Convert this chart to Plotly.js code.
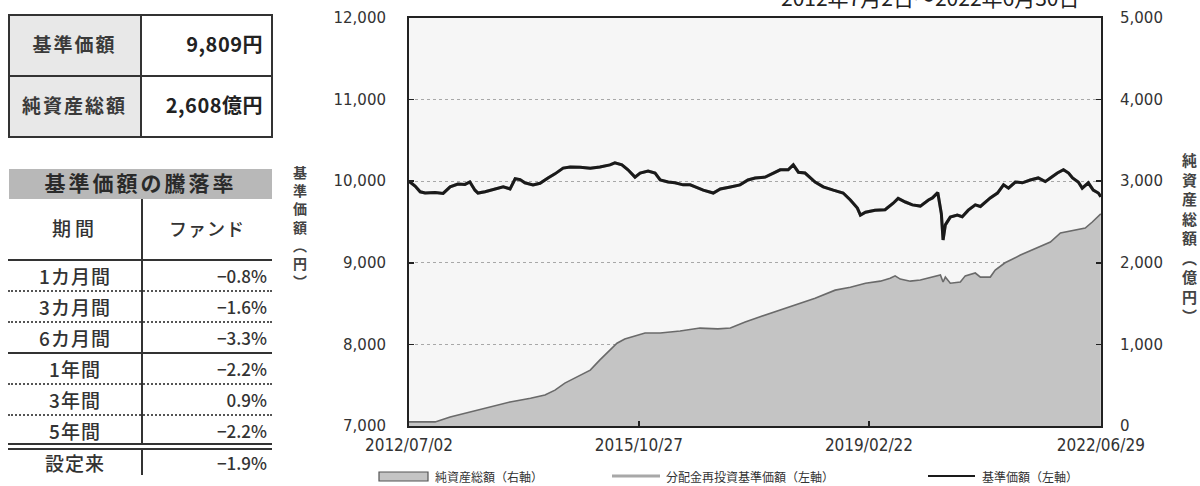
<!DOCTYPE html>
<html><head><meta charset="utf-8">
<script src="https://cdn.plot.ly/plotly-3.0.1.min.js"></script>
<style>
html,body{margin:0;padding:0;background:#fff;width:1200px;height:486px;overflow:hidden;}
#chart{position:absolute;left:0;top:0;width:1200px;height:486px;}
.box{position:absolute;box-sizing:border-box;}
.tx{position:absolute;font-family:"Noto Sans CJK JP",sans-serif;color:#333;white-space:nowrap;line-height:1;}
</style></head>
<body>
<div id="chart"></div>
<div id="tables"></div>
<script>
// ---------- data ----------
const summaryLabels = ['基準価額', '純資産総額'];
const summaryValues = ['9,809円', '2,608億円'];
const returnTitle = '基準価額の騰落率';
const returnHeader = ['期間', 'ファンド'];
const periods = ['1カ月間', '3カ月間', '6カ月間', '1年間', '3年間', '5年間', '設定来'];
const fundReturns = ['−0.8%', '−1.6%', '−3.3%', '−2.2%', '0.9%', '−2.2%', '−1.9%'];

const chartTitle = '2012年7月2日～2022年6月30日';
const xTickVals = ['2012-07-02', '2015-10-27', '2019-02-22', '2022-06-29'];
const xTickText = ['2012/07/02', '2015/10/27', '2019/02/22', '2022/06/29'];
const leftTicks = [7000, 8000, 9000, 10000, 11000, 12000];
const rightTicks = [0, 1000, 2000, 3000, 4000, 5000];
const legendNames = ['純資産総額（右軸）', '分配金再投資基準価額（左軸）', '基準価額（左軸）'];

const navDates = ['2012-07-02','2012-08-03','2012-08-30','2012-09-25','2012-11-17','2012-12-29','2013-02-04','2013-03-17','2013-04-23','2013-05-19','2013-06-15','2013-07-01','2013-08-07','2013-09-29','2013-11-11','2013-12-17','2014-01-13','2014-02-08','2014-03-05','2014-04-17','2014-05-24','2014-07-05','2014-08-11','2014-09-23','2014-10-30','2014-12-22','2015-02-13','2015-04-05','2015-05-28','2015-06-23','2015-07-30','2015-08-31','2015-10-07','2015-11-03','2015-12-15','2016-01-21','2016-02-17','2016-03-30','2016-05-05','2016-06-17','2016-07-24','2016-08-20','2016-10-01','2016-11-23','2016-12-30','2017-02-21','2017-04-13','2017-05-25','2017-07-02','2017-08-24','2017-10-05','2017-11-11','2017-12-23','2018-01-19','2018-02-15','2018-03-22','2018-05-14','2018-06-26','2018-08-18','2018-10-09','2018-11-16','2018-12-23','2019-01-08','2019-02-04','2019-03-26','2019-05-18','2019-06-30','2019-07-26','2019-09-02','2019-10-09','2019-11-20','2020-01-02','2020-01-23','2020-02-20','2020-03-10','2020-03-19','2020-03-31','2020-04-26','2020-06-02','2020-06-28','2020-07-30','2020-09-05','2020-10-02','2020-10-28','2020-11-23','2020-12-31','2021-02-01','2021-02-27','2021-04-04','2021-05-11','2021-06-22','2021-08-03','2021-09-09','2021-10-06','2021-11-12','2021-12-14','2022-01-10','2022-01-31','2022-03-02','2022-03-23','2022-04-24','2022-05-20','2022-06-16','2022-06-29'];
const navValues = [10000,9940,9870,9855,9860,9850,9930,9965,9960,9990,9890,9855,9870,9905,9930,9905,10030,10020,9980,9955,9975,10040,10090,10160,10175,10170,10160,10175,10200,10225,10200,10140,10050,10100,10125,10100,10015,9990,9980,9955,9955,9930,9890,9855,9905,9930,9955,10015,10040,10050,10100,10140,10140,10200,10110,10100,9990,9930,9890,9855,9770,9670,9585,9620,9645,9650,9730,9790,9745,9710,9695,9770,9795,9860,9600,9280,9465,9560,9585,9565,9645,9710,9690,9745,9795,9855,9955,9915,9990,9980,10015,10040,9995,10040,10100,10140,10100,10040,9990,9915,9980,9890,9855,9809];
// no distributions were paid, so the reinvested NAV coincides with the NAV
const reinvestValues = navValues.slice();

const assetDates = ['2012-07-02','2012-11-17','2013-02-04','2013-05-19','2013-09-05','2013-12-17','2014-04-04','2014-06-19','2014-08-11','2014-10-02','2014-11-25','2014-12-22','2015-02-13','2015-04-05','2015-05-28','2015-07-04','2015-08-14','2015-10-07','2015-11-29','2016-02-17','2016-06-01','2016-09-14','2016-12-17','2017-02-21','2017-05-10','2017-07-28','2017-10-15','2018-01-29','2018-05-14','2018-08-28','2018-11-16','2019-02-04','2019-04-23','2019-06-14','2019-07-10','2019-08-06','2019-09-28','2019-11-20','2020-02-08','2020-03-05','2020-03-19','2020-03-31','2020-04-26','2020-06-18','2020-07-14','2020-09-05','2020-10-02','2020-11-23','2020-12-19','2021-02-09','2021-05-01','2021-07-19','2021-10-06','2021-11-28','2022-02-15','2022-04-08','2022-05-15','2022-06-29'];
const assetValues = [50,50,110,170,235,295,340,380,440,525,590,620,685,810,930,1015,1065,1100,1140,1140,1165,1200,1190,1200,1275,1340,1400,1480,1565,1665,1700,1750,1775,1810,1840,1800,1775,1790,1830,1850,1765,1825,1750,1765,1840,1875,1825,1825,1910,2000,2095,2180,2255,2365,2400,2425,2500,2600];

// ---------- layout helpers ----------
const L = 409, R = 1101, T = 18, B = 426;
const px = x => (x - L) / (R - L);
const py = y => (B - y) / (B - T);
const FONT = '"Noto Sans CJK JP", sans-serif';

const traces = [
  {x: assetDates, y: assetValues, yaxis: 'y2', type: 'scatter', mode: 'lines', fill: 'tozeroy',
   fillcolor: '#c4c4c4', line: {color: '#6a6a6a', width: 1.6}, name: legendNames[0], hoverinfo: 'skip'},
  {x: navDates, y: reinvestValues, type: 'scatter', mode: 'lines',
   line: {color: '#a8a8a8', width: 3}, name: legendNames[1]},
  {x: navDates, y: navValues, type: 'scatter', mode: 'lines',
   line: {color: '#1a1a1a', width: 3}, name: legendNames[2]}
];

const fmt = v => v.toLocaleString('en-US');

const annotations = [
  {text: chartTitle, xref: 'paper', yref: 'paper', x: px(930), y: 1, xanchor: 'center', yanchor: 'bottom',
   yshift: 4, showarrow: false, font: {family: FONT, size: 21, color: '#222'}},
  {text: '基<br>準<br>価<br>額<br>︵<br>円<br>︶', xref: 'paper', yref: 'paper', x: px(300), y: py(226),
   xanchor: 'center', yanchor: 'middle', showarrow: false, font: {family: FONT, size: 14, color: '#444', weight: 700}},
  {text: '純<br>資<br>産<br>総<br>額<br>︵<br>億<br>円<br>︶', xref: 'paper', yref: 'paper', x: px(1189), y: py(237),
   xanchor: 'center', yanchor: 'middle', showarrow: false, font: {family: FONT, size: 15, color: '#444', weight: 700}},
];
const legendX = [433, 664, 980];
legendNames.forEach((n, i) => annotations.push({
  text: n, xref: 'paper', yref: 'paper', x: px(legendX[i]), y: py(476), xanchor: 'left', yanchor: 'middle',
  showarrow: false, font: {family: FONT, size: 12, color: '#333'}
}));

const shapes = [
  {type: 'rect', xref: 'paper', yref: 'paper', x0: px(379), x1: px(428), y0: py(472), y1: py(481),
   fillcolor: '#c4c4c4', line: {color: '#555', width: 1.2}},
  {type: 'line', xref: 'paper', yref: 'paper', x0: px(612), x1: px(660), y0: py(476), y1: py(476),
   line: {color: '#a8a8a8', width: 3}},
  {type: 'line', xref: 'paper', yref: 'paper', x0: px(928), x1: px(975), y0: py(476), y1: py(476),
   line: {color: '#1a1a1a', width: 2}}
];

const layout = {
  width: 1200, height: 486,
  margin: {l: L, r: 1200 - R, t: T, b: 486 - B, pad: 0},
  paper_bgcolor: '#ffffff', plot_bgcolor: '#f6f6f6',
  showlegend: false,
  xaxis: {type: 'date', range: ['2012-07-02', '2022-06-30'], tickvals: xTickVals, ticktext: xTickText,
    ticks: 'inside', ticklen: 5, tickwidth: 1.5, tickcolor: '#222', showline: true, mirror: true,
    linecolor: '#222', linewidth: 2, showgrid: false, zeroline: false, ticklabelstandoff: 3,
    tickfont: {family: '"DejaVu Sans Condensed", "DejaVu Sans", sans-serif', size: 17, color: '#333'}},
  yaxis: {range: [7000, 12000], tickvals: leftTicks, ticktext: leftTicks.map(fmt),
    ticks: 'inside', ticklen: 5, tickwidth: 1.5, tickcolor: '#222', showline: true,
    linecolor: '#222', linewidth: 2, showgrid: true, gridcolor: '#a8a8a8', griddash: 'dot', gridwidth: 1,
    zeroline: false, ticklabelstandoff: 18,
    tickfont: {family: '"DejaVu Sans", sans-serif', size: 15, color: '#333'}},
  yaxis2: {overlaying: 'y', side: 'right', range: [0, 5000], tickvals: rightTicks, ticktext: rightTicks.map(fmt),
    ticks: 'inside', ticklen: 5, tickwidth: 1.5, tickcolor: '#222', showline: true,
    linecolor: '#222', linewidth: 2, showgrid: false, zeroline: false, ticklabelstandoff: 14,
    tickfont: {family: '"DejaVu Sans", sans-serif', size: 15, color: '#333'}},
  annotations, shapes
};

Plotly.newPlot('chart', traces, layout, {staticPlot: true, displayModeBar: false});

// ---------- side tables ----------
const host = document.getElementById('tables');
function el(cls, style, text) {
  const d = document.createElement('div');
  d.className = cls;
  Object.assign(d.style, style);
  if (text !== undefined) d.textContent = text;
  host.appendChild(d);
  return d;
}
// summary table
const t1 = {l: 8, r: 273, top: 14, mid: 141};
const rowH1 = 61.5;
summaryLabels.forEach((lab, i) => {
  const top = t1.top + i * rowH1;
  el('box', {left: t1.l + 'px', top: top + 'px', width: (t1.mid - t1.l) + 'px', height: rowH1 + 'px', background: '#e8e8e8'});
  el('tx', {left: t1.l + 'px', width: (t1.mid - t1.l) + 'px', top: (top + rowH1 / 2 - 11) + 'px', textAlign: 'center',
    fontSize: '19px', fontWeight: '700', letterSpacing: '2px', color: '#3a3a3a'}, lab);
  el('tx', {left: t1.mid + 'px', width: (t1.r - 10 - t1.mid) + 'px', top: (top + rowH1 / 2 - 11) + 'px', textAlign: 'right',
    fontSize: '20px', fontWeight: '700', color: '#222', letterSpacing: '0.5px'}, summaryValues[i]);
});
el('box', {left: t1.l + 'px', top: t1.top + 'px', width: (t1.r - t1.l) + 'px', height: (2 * rowH1 + 1) + 'px', border: '2px solid #333'});
el('box', {left: (t1.mid - 1) + 'px', top: t1.top + 'px', width: '2px', height: (2 * rowH1) + 'px', background: '#333'});
el('box', {left: t1.l + 'px', top: (t1.top + rowH1 - 1) + 'px', width: (t1.r - t1.l) + 'px', height: '2px', background: '#333'});

// returns table
const t2 = {l: 8, r: 272, mid: 142};
el('box', {left: '9px', top: '169px', width: '263px', height: '30px', background: '#b8b8b8'});
el('tx', {left: '9px', width: '263px', top: '172px', textAlign: 'center', fontSize: '21px', fontWeight: '700',
  letterSpacing: '3px', color: '#2a2a2a'}, returnTitle);
el('box', {left: (t2.mid - 1) + 'px', top: '199px', width: '2px', height: '276px', background: '#333'});
el('tx', {left: t2.l + 'px', width: (t2.mid - t2.l) + 'px', top: '218px', textAlign: 'center', fontSize: '19px',
  fontWeight: '500', letterSpacing: '4px'}, returnHeader[0]);
el('tx', {left: t2.mid + 'px', width: (t2.r - t2.mid) + 'px', top: '219px', textAlign: 'center', fontSize: '18px',
  fontWeight: '500', letterSpacing: '1px'}, returnHeader[1]);
el('box', {left: t2.l + 'px', top: '259px', width: (t2.r - t2.l) + 'px', height: '2px', background: '#333'});
const rowTop = 260, rowH = 31;
const sepStyles = ['dotted', 'dotted', 'solid', 'dotted', 'dotted', 'double'];
periods.forEach((p, i) => {
  const top = rowTop + i * rowH + (i === 6 ? 1 : 0);
  el('tx', {left: t2.l + 'px', width: (t2.mid - t2.l) + 'px', top: (top + 6) + 'px', textAlign: 'center',
    fontSize: '19px', fontWeight: '500', letterSpacing: '1px'}, p);
  el('tx', {left: t2.mid + 'px', width: (t2.r - 5 - t2.mid) + 'px', top: (top + 7) + 'px', textAlign: 'right',
    fontSize: '17px', fontWeight: '500'}, fundReturns[i]);
  if (i < sepStyles.length) {
    const y = rowTop + (i + 1) * rowH;
    const s = sepStyles[i];
    if (s === 'double') {
      el('box', {left: t2.l + 'px', top: (y - 3) + 'px', width: (t2.r - t2.l) + 'px', height: '7px',
        borderTop: '2px solid #333', borderBottom: '2px solid #333', background: '#fff'});
    } else if (s === 'solid') {
      el('box', {left: t2.l + 'px', top: (y - 1) + 'px', width: (t2.r - t2.l) + 'px', height: '2px', background: '#333'});
    } else {
      el('box', {left: t2.l + 'px', top: (y - 1) + 'px', width: (t2.r - t2.l) + 'px', height: '0px', borderTop: '2px dotted #555'});
    }
  }
});
</script>
</body></html>
